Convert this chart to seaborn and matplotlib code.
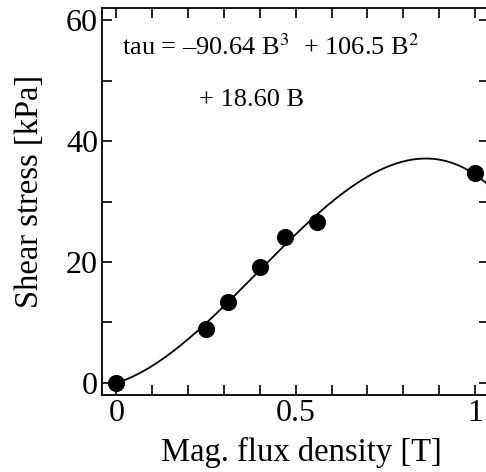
import numpy as np
import matplotlib
matplotlib.use("Agg")
import matplotlib.pyplot as plt
import seaborn as sns

# measured points
flux = [0.0, 0.25, 0.31, 0.40, 0.47, 0.56, 1.0]
stress = [0.0, 8.9, 13.4, 19.2, 24.2, 26.7, 34.7]

# fit coefficients shown on the chart (B^3, B^2, B)
coef = [-90.64, 106.5, 18.60, 0.0]

x_ticks = [0, 0.1, 0.2, 0.3, 0.4, 0.5, 0.6, 0.7, 0.8, 0.9, 1.0]
x_labels = ["0", "", "", "", "", "0.5", "", "", "", "", "1"]
y_ticks = [0, 10, 20, 30, 40, 50, 60]
y_labels = ["0", "", "20", "", "40", "", "60"]

sns.set_theme(style="ticks")
plt.rcParams["font.family"] = ["Liberation Serif", "DejaVu Serif"]
plt.rcParams["mathtext.fontset"] = "stix"

fig = plt.figure(figsize=(4.86, 4.72), dpi=100)
ax = fig.add_axes([0.21, 0.163, 0.797, 0.82])

b_fit = np.linspace(0, 1.05, 200)
tau_fit = np.polyval(coef, b_fit)
sns.lineplot(x=b_fit, y=tau_fit, ax=ax, color="black", lw=1.3)
sns.scatterplot(x=flux, y=stress, ax=ax, color="black", s=130,
                edgecolor="black", zorder=3)

ax.set_xlim(-0.04, 1.04)
ax.set_ylim(-2, 62)
ax.set_xticks(x_ticks)
ax.set_xticklabels(x_labels)
ax.set_yticks(y_ticks)
ax.set_yticklabels(y_labels)
ax.tick_params(direction="in", length=7, width=1.2, labelsize=23,
               top=True, right=True, colors="black", pad=3)
for sp in ax.spines.values():
    sp.set_linewidth(1.3)
    sp.set_color("black")

ax.set_xlabel("Mag. flux density [T]", fontsize=23.5, color="black", labelpad=6.5)
ax.set_ylabel("Shear stress [kPa]", fontsize=23.5, color="black", labelpad=15)
ax.xaxis.label.set_x(0.515)
ax.yaxis.label.set_y(0.527)

ax.text(0.015, 54.3, r"tau = –90.64 B$^3$  + 106.5 B$^2$", fontsize=19,
        color="black")
ax.text(0.23, 45.8, "+ 18.60 B", fontsize=19, color="black")

fig.savefig("out.png", dpi=100)
